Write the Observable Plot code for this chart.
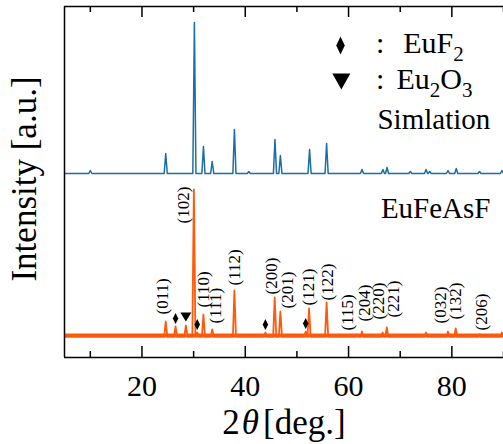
<!DOCTYPE html>
<html><head><meta charset="utf-8">
<script src="https://cdn.jsdelivr.net/npm/d3@7"></script>
<script src="https://cdn.jsdelivr.net/npm/@observablehq/plot@0.6"></script>
<style>body{margin:0;background:#fff} svg text{font-family:"Liberation Serif","DejaVu Serif",serif !important}</style>
</head><body><div id="chart"></div>
<script>
// ---- data ----
const xDomain = [5, 90];
const xTicksMajor = [20, 40, 60, 80];
const xTicksMinor = [10, 30, 50, 70, 90];

// Simulation pattern (blue): peak positions (2θ) and heights (a.u.)
const simPeakPos = [10.0, 24.6, 30.15, 31.9, 33.6, 37.9, 40.7, 45.75, 46.8, 52.45, 55.75, 62.6, 66.65, 67.45, 71.95, 75.0, 75.7, 79.25, 80.85, 85.35, 89.7];
const simPeakInt = [3, 20, 151, 27, 12, 44, 2, 34, 18, 24, 30, 4, 4, 6, 2, 4, 2, 3, 5, 2, 3];
const simBase = 184;

// Measured EuFeAsF pattern (orange)
const expPeakPos = [24.6, 26.5, 28.5, 30.05, 30.7, 31.9, 33.6, 37.9, 43.9, 45.7, 46.8, 51.7, 52.35, 55.75, 61.6, 62.6, 66.6, 67.4, 75.0, 79.25, 80.75, 85.3, 89.7];
const expPeakInt = [15, 10, 11, 147, 4, 22, 7, 46, 4, 39, 25, 5, 28, 34, 2, 5, 4, 9, 4, 5, 8, 2, 4];
const expBase = 21;
const expNoise = [-1.5, 2.5];

// impurity peaks
const eufPeaks = [26.5, 30.7, 43.9, 51.7];
const eufInt = [10, 4, 4, 5];
const euoPeaks = [28.5];
const euoInt = [11];

// Miller indices
const hklLabels = ["(011)", "(102)", "(110)", "(111)", "(112)", "(200)", "(201)", "(121)", "(122)", "(115)", "(204)", "(220)", "(221)", "(032)", "(132)", "(206)"];
const hklX = [23.92, 27.98, 31.97, 34.23, 37.91, 45.02, 48.12, 52.3, 55.86, 59.85, 63.08, 65.85, 68.64, 77.8, 80.7, 85.68];
const hklY = [43, 134, 50, 34, 72, 63, 49, 52, 57, 27, 36, 38, 40, 34, 38, 27];

// ---- build traces from peak lists ----
function profile(pos, ints, base, hw) {
  const pts = [{x: xDomain[0], y: base}];
  pos.forEach((p, i) => {
    pts.push({x: p - hw, y: base}, {x: p, y: base + ints[i]}, {x: p + hw, y: base});
  });
  pts.push({x: xDomain[1], y: base});
  return pts;
}
const simTrace = profile(simPeakPos, simPeakInt, simBase, 0.3);
const expTrace = profile(expPeakPos, expPeakInt, expBase, 0.3);

const diamond = (w, h) => ({draw(ctx) { ctx.moveTo(0, -h/2); ctx.lineTo(w/2, 0); ctx.lineTo(0, h/2); ctx.lineTo(-w/2, 0); ctx.closePath(); }});
const triDown = (w, h) => ({draw(ctx) { ctx.moveTo(-w/2, -h/2); ctx.lineTo(w/2, -h/2); ctx.lineTo(0, h/2); ctx.closePath(); }});

const blue = "#1b6ea6", orange = "#ff5a0a";
const serif = "'Liberation Serif', 'DejaVu Serif', serif";

const plot = Plot.plot({
  width: 503, height: 444,
  marginLeft: 64, marginRight: 0, marginTop: 6, marginBottom: 87,
  x: {domain: xDomain, axis: null},
  y: {domain: [0, 351], axis: null},
  style: {fontSize: "30px", background: "#fff", color: "#000"},
  marks: [
    Plot.areaY([{x: xDomain[0]}, {x: xDomain[1]}], {x: "x", y1: expBase + expNoise[0], y2: expBase + expNoise[1], fill: orange}),
    Plot.line(expTrace, {x: "x", y: "y", stroke: orange, strokeWidth: 1.8, clip: true}),
    Plot.line(simTrace, {x: "x", y: "y", stroke: blue, strokeWidth: 1.5, clip: true}),
    Plot.ruleX([xDomain[0]], {y1: 0, y2: 351, stroke: "#000", strokeWidth: 1.5}),
    Plot.ruleY([0, 351], {stroke: "#000", strokeWidth: 1.5}),
    Plot.ruleX(xTicksMajor, {y1: 0, y2: 11, stroke: "#000", strokeWidth: 1.5}),
    Plot.ruleX(xTicksMinor, {y1: 0, y2: 6, stroke: "#000", strokeWidth: 1.5}),
    Plot.ruleX(xTicksMajor, {y1: 351 - 11, y2: 351, stroke: "#000", strokeWidth: 1.5}),
    Plot.ruleX(xTicksMinor, {y1: 351 - 6, y2: 351, stroke: "#000", strokeWidth: 1.5}),
    Plot.text(xTicksMajor, {x: d => d, frameAnchor: "bottom", dy: 38, lineAnchor: "bottom", fontSize: 30, text: d => String(d)}),
    Plot.text(["2θ [deg.]"], {frameAnchor: "bottom", dy: 76, lineAnchor: "bottom", fontSize: 35, text: d => d}),
    Plot.text(["Intensity [a.u.]"], {frameAnchor: "left", dx: -29, dy: -3, rotate: -90, lineAnchor: "bottom", textAnchor: "middle", fontSize: 35, text: d => d}),
    Plot.text(hklLabels, {x: (d, i) => hklX[i], y: (d, i) => hklY[i], text: d => d, rotate: -90, textAnchor: "start", lineAnchor: "middle", fontSize: 17}),
    Plot.dot(eufPeaks, {x: d => d, y: (d, i) => expBase + eufInt[i] + 8, symbol: diamond(5.5, 11), fill: "#000", r: 4}),
    Plot.dot(euoPeaks, {x: d => d, y: (d, i) => expBase + euoInt[i] + 8.5, symbol: triDown(11, 9), fill: "#000", r: 4}),
    Plot.dot(["EuF_2"], {x: 58.44, y: 312, symbol: diamond(8.5, 18), fill: "#000", r: 5}),
    Plot.dot(["Eu_2O_3"], {x: 58.6, y: 276, symbol: triDown(18, 16), fill: "#000", r: 5}),
    Plot.text([":", ":"], {x: 66.1, y: (d, i) => [304.5, 268.5][i], text: d => d, lineAnchor: "bottom", textAnchor: "middle", fontSize: 30}),
    Plot.text(["EuF_2", "Eu_2O_3"], {x: (d, i) => [70.58, 69.28][i], y: (d, i) => [304.5, 268.5][i], text: d => d, lineAnchor: "bottom", textAnchor: "start", fontSize: 30}),
    Plot.text(["Simlation"], {x: 65.6, y: 229, text: d => d, lineAnchor: "bottom", textAnchor: "start", fontSize: 29}),
    Plot.text(["EuFeAsF"], {x: 87.48, y: 140, text: d => d, lineAnchor: "bottom", textAnchor: "end", fontSize: 29})
  ]
});

d3.select(plot).selectAll("text").each(function() {
  const t = this.textContent;
  const el = d3.select(this);
  el.style("font-family", serif);
  if (t.includes("_")) {
    const fs = 30, shift = fs * 0.28;
    el.text(null);
    let down = false;
    t.split(/(_\d)/).filter(s => s).forEach(s => {
      if (s.startsWith("_")) {
        el.append("tspan").attr("font-size", fs * 0.7).attr("dy", down ? 0 : shift).text(s.slice(1));
        down = true;
      } else {
        el.append("tspan").attr("dy", down ? -shift : 0).text(s);
        down = false;
      }
    });
  } else if (t === "2θ [deg.]") {
    el.text(null);
    el.append("tspan").text("2");
    el.append("tspan").attr("font-style", "italic").attr("dx", 2).text("θ");
    el.append("tspan").attr("dx", 4).text("[deg.]");
  }
});

document.getElementById("chart").appendChild(plot);
</script>
</body></html>
